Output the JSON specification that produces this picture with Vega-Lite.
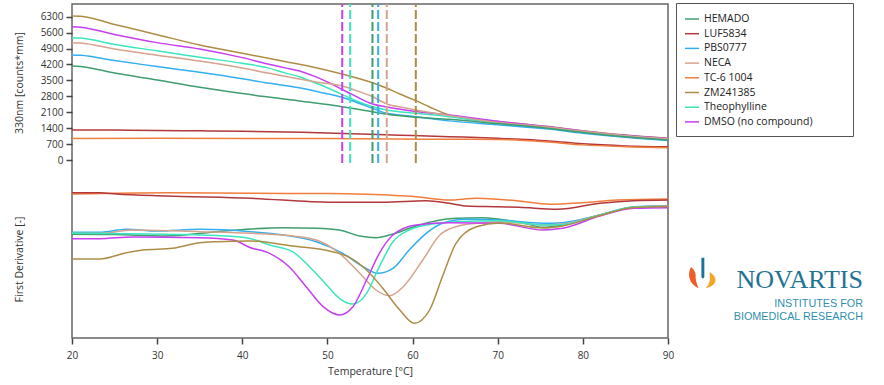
{
  "$schema": "https://vega.github.io/schema/vega-lite/v6.json",
  "width": 596,
  "height": 334,
  "autosize": {"type": "none"},
  "padding": {"left": 72, "top": 4, "right": 216, "bottom": 47},
  "background": "white",
  "config": {
    "view": {"stroke": "#666666", "strokeWidth": 1.5},
    "font": "Open Sans",
    "axis": {
      "labelFont": "Open Sans", "labelFontSize": 10, "labelColor": "#333333",
      "titleFont": "Open Sans", "titleFontSize": 10.5, "titleFontWeight": "normal", "titleColor": "#333333",
      "ticks": true, "tickColor": "#444444", "tickSize": 6, "tickWidth": 1.5, "tickOpacity": 1, "labelPadding": 3,
      "domain": false, "grid": false
    },
    "line": {"strokeWidth": 1.5, "interpolate": "monotone"}
  },
  "datasets": {
    "top": [
      {"s":"ZM241385","T":20,"v":6330},{"s":"ZM241385","T":21,"v":6320},{"s":"ZM241385","T":25,"v":5960},{"s":"ZM241385","T":30,"v":5510},{"s":"ZM241385","T":35,"v":5055},{"s":"ZM241385","T":40,"v":4690},{"s":"ZM241385","T":45,"v":4330},{"s":"ZM241385","T":48,"v":4110},{"s":"ZM241385","T":51.7,"v":3780},{"s":"ZM241385","T":55.3,"v":3398},{"s":"ZM241385","T":57,"v":3152},{"s":"ZM241385","T":58.5,"v":2900},{"s":"ZM241385","T":60.4,"v":2608},{"s":"ZM241385","T":62,"v":2330},{"s":"ZM241385","T":64.3,"v":1978},{"s":"ZM241385","T":67,"v":1800},{"s":"ZM241385","T":70,"v":1690},{"s":"ZM241385","T":76,"v":1470},{"s":"ZM241385","T":80,"v":1290},{"s":"ZM241385","T":85,"v":1100},{"s":"ZM241385","T":90,"v":960},
      {"s":"DMSO (no compound)","T":20,"v":5860},{"s":"DMSO (no compound)","T":21,"v":5840},{"s":"DMSO (no compound)","T":25,"v":5520},{"s":"DMSO (no compound)","T":30,"v":5160},{"s":"DMSO (no compound)","T":35,"v":4880},{"s":"DMSO (no compound)","T":40,"v":4500},{"s":"DMSO (no compound)","T":43,"v":4220},{"s":"DMSO (no compound)","T":45,"v":4050},{"s":"DMSO (no compound)","T":47,"v":3880},{"s":"DMSO (no compound)","T":49,"v":3600},{"s":"DMSO (no compound)","T":50.5,"v":3340},{"s":"DMSO (no compound)","T":51.7,"v":3108},{"s":"DMSO (no compound)","T":53,"v":2860},{"s":"DMSO (no compound)","T":55.3,"v":2462},{"s":"DMSO (no compound)","T":57,"v":2330},{"s":"DMSO (no compound)","T":60.4,"v":2130},{"s":"DMSO (no compound)","T":64.3,"v":1980},{"s":"DMSO (no compound)","T":70,"v":1700},{"s":"DMSO (no compound)","T":76,"v":1460},{"s":"DMSO (no compound)","T":80,"v":1280},{"s":"DMSO (no compound)","T":85,"v":1090},{"s":"DMSO (no compound)","T":90,"v":950},
      {"s":"Theophylline","T":20,"v":5376},{"s":"Theophylline","T":21,"v":5360},{"s":"Theophylline","T":25,"v":5080},{"s":"Theophylline","T":30,"v":4800},{"s":"Theophylline","T":35,"v":4515},{"s":"Theophylline","T":40,"v":4250},{"s":"Theophylline","T":43,"v":4050},{"s":"Theophylline","T":45,"v":3830},{"s":"Theophylline","T":46.7,"v":3662},{"s":"Theophylline","T":49,"v":3330},{"s":"Theophylline","T":51.7,"v":2888},{"s":"Theophylline","T":53,"v":2660},{"s":"Theophylline","T":55.3,"v":2343},{"s":"Theophylline","T":57,"v":2198},{"s":"Theophylline","T":60.4,"v":2051},{"s":"Theophylline","T":64.3,"v":1905},{"s":"Theophylline","T":70,"v":1620},{"s":"Theophylline","T":76,"v":1420},{"s":"Theophylline","T":80,"v":1240},{"s":"Theophylline","T":85,"v":1050},{"s":"Theophylline","T":90,"v":910},
      {"s":"NECA","T":20,"v":5157},{"s":"NECA","T":21,"v":5140},{"s":"NECA","T":25,"v":4880},{"s":"NECA","T":30,"v":4610},{"s":"NECA","T":35,"v":4352},{"s":"NECA","T":40,"v":4040},{"s":"NECA","T":43,"v":3820},{"s":"NECA","T":46.7,"v":3560},{"s":"NECA","T":49,"v":3410},{"s":"NECA","T":51.7,"v":3253},{"s":"NECA","T":53.5,"v":3040},{"s":"NECA","T":55.3,"v":2783},{"s":"NECA","T":57,"v":2462},{"s":"NECA","T":59,"v":2300},{"s":"NECA","T":60.4,"v":2198},{"s":"NECA","T":64.3,"v":1960},{"s":"NECA","T":70,"v":1650},{"s":"NECA","T":76,"v":1440},{"s":"NECA","T":80,"v":1260},{"s":"NECA","T":85,"v":1070},{"s":"NECA","T":90,"v":930},
      {"s":"PBS0777","T":20,"v":4616},{"s":"PBS0777","T":21,"v":4600},{"s":"PBS0777","T":25,"v":4370},{"s":"PBS0777","T":30,"v":4110},{"s":"PBS0777","T":35,"v":3855},{"s":"PBS0777","T":40,"v":3570},{"s":"PBS0777","T":43,"v":3380},{"s":"PBS0777","T":46.7,"v":3180},{"s":"PBS0777","T":49,"v":2990},{"s":"PBS0777","T":51.7,"v":2756},{"s":"PBS0777","T":53.5,"v":2520},{"s":"PBS0777","T":55.3,"v":2271},{"s":"PBS0777","T":57,"v":2051},{"s":"PBS0777","T":59,"v":1960},{"s":"PBS0777","T":60.4,"v":1905},{"s":"PBS0777","T":64.3,"v":1720},{"s":"PBS0777","T":70,"v":1550},{"s":"PBS0777","T":76,"v":1360},{"s":"PBS0777","T":80,"v":1180},{"s":"PBS0777","T":85,"v":1000},{"s":"PBS0777","T":90,"v":860},
      {"s":"HEMADO","T":20,"v":4132},{"s":"HEMADO","T":21,"v":4115},{"s":"HEMADO","T":25,"v":3820},{"s":"HEMADO","T":30,"v":3520},{"s":"HEMADO","T":35,"v":3196},{"s":"HEMADO","T":40,"v":2920},{"s":"HEMADO","T":46.7,"v":2594},{"s":"HEMADO","T":51.7,"v":2343},{"s":"HEMADO","T":55.3,"v":2124},{"s":"HEMADO","T":57,"v":2008},{"s":"HEMADO","T":60.4,"v":1875},{"s":"HEMADO","T":64.3,"v":1788},{"s":"HEMADO","T":70,"v":1600},{"s":"HEMADO","T":76,"v":1390},{"s":"HEMADO","T":80,"v":1210},{"s":"HEMADO","T":85,"v":1020},{"s":"HEMADO","T":90,"v":880},
      {"s":"LUF5834","T":20,"v":1320},{"s":"LUF5834","T":25,"v":1315},{"s":"LUF5834","T":30,"v":1300},{"s":"LUF5834","T":35,"v":1285},{"s":"LUF5834","T":40,"v":1260},{"s":"LUF5834","T":47,"v":1215},{"s":"LUF5834","T":55,"v":1130},{"s":"LUF5834","T":60,"v":1075},{"s":"LUF5834","T":64.3,"v":1025},{"s":"LUF5834","T":70,"v":955},{"s":"LUF5834","T":76,"v":840},{"s":"LUF5834","T":80,"v":710},{"s":"LUF5834","T":85,"v":620},{"s":"LUF5834","T":90,"v":585},
      {"s":"TC-6 1004","T":20,"v":950},{"s":"TC-6 1004","T":30,"v":955},{"s":"TC-6 1004","T":40,"v":950},{"s":"TC-6 1004","T":50,"v":940},{"s":"TC-6 1004","T":58.5,"v":923},{"s":"TC-6 1004","T":64,"v":912},{"s":"TC-6 1004","T":70,"v":905},{"s":"TC-6 1004","T":76,"v":790},{"s":"TC-6 1004","T":80,"v":665},{"s":"TC-6 1004","T":85,"v":585},{"s":"TC-6 1004","T":90,"v":541}
    ],
    "deriv": [
      {"s":"TC-6 1004","T":20,"d":-4},{"s":"TC-6 1004","T":31,"d":-2.7},{"s":"TC-6 1004","T":41,"d":-3.3},{"s":"TC-6 1004","T":50,"d":-3.5},{"s":"TC-6 1004","T":54.6,"d":-4.3},{"s":"TC-6 1004","T":60.4,"d":-6.7},{"s":"TC-6 1004","T":64.3,"d":-10},{"s":"TC-6 1004","T":67.5,"d":-8.3},{"s":"TC-6 1004","T":70,"d":-9.3},{"s":"TC-6 1004","T":72.2,"d":-10.7},{"s":"TC-6 1004","T":76.1,"d":-14.3},{"s":"TC-6 1004","T":80,"d":-12.7},{"s":"TC-6 1004","T":84,"d":-10},{"s":"TC-6 1004","T":90,"d":-9},
      {"s":"LUF5834","T":20,"d":-2.7},{"s":"LUF5834","T":23.25,"d":-2.7},{"s":"LUF5834","T":25.2,"d":-4},{"s":"LUF5834","T":31,"d":-6},{"s":"LUF5834","T":41,"d":-8.3},{"s":"LUF5834","T":50.6,"d":-12.3},{"s":"LUF5834","T":56.5,"d":-12.3},{"s":"LUF5834","T":61.6,"d":-10.7},{"s":"LUF5834","T":64.3,"d":-13.3},{"s":"LUF5834","T":66.3,"d":-16},{"s":"LUF5834","T":70,"d":-16.7},{"s":"LUF5834","T":72.5,"d":-17.3},{"s":"LUF5834","T":77,"d":-19.3},{"s":"LUF5834","T":82,"d":-13.3},{"s":"LUF5834","T":86,"d":-10.7},{"s":"LUF5834","T":90,"d":-10},
      {"s":"HEMADO","T":20,"d":-44.3},{"s":"HEMADO","T":25,"d":-44.5},{"s":"HEMADO","T":31,"d":-46},{"s":"HEMADO","T":37,"d":-41.7},{"s":"HEMADO","T":41,"d":-39},{"s":"HEMADO","T":44.8,"d":-37.7},{"s":"HEMADO","T":48.7,"d":-38.3},{"s":"HEMADO","T":51.4,"d":-40},{"s":"HEMADO","T":53.8,"d":-46},{"s":"HEMADO","T":55.7,"d":-47.7},{"s":"HEMADO","T":57.7,"d":-44},{"s":"HEMADO","T":60.4,"d":-36},{"s":"HEMADO","T":62.8,"d":-30.7},{"s":"HEMADO","T":65.1,"d":-28.3},{"s":"HEMADO","T":68.2,"d":-27.7},{"s":"HEMADO","T":70.2,"d":-29.3},{"s":"HEMADO","T":73,"d":-33},{"s":"HEMADO","T":75.3,"d":-37.3},{"s":"HEMADO","T":77.6,"d":-35},{"s":"HEMADO","T":82,"d":-25},{"s":"HEMADO","T":86,"d":-17.3},{"s":"HEMADO","T":90,"d":-16},
      {"s":"PBS0777","T":20,"d":-42.3},{"s":"PBS0777","T":23.25,"d":-42.3},{"s":"PBS0777","T":26.4,"d":-39.3},{"s":"PBS0777","T":29.9,"d":-41},{"s":"PBS0777","T":35,"d":-39.3},{"s":"PBS0777","T":41,"d":-41.7},{"s":"PBS0777","T":44.8,"d":-45},{"s":"PBS0777","T":48.7,"d":-51.7},{"s":"PBS0777","T":51.8,"d":-63.3},{"s":"PBS0777","T":54.2,"d":-76.7},{"s":"PBS0777","T":55.9,"d":-83.3},{"s":"PBS0777","T":57.7,"d":-78.3},{"s":"PBS0777","T":59.6,"d":-60},{"s":"PBS0777","T":61.6,"d":-43.3},{"s":"PBS0777","T":63.5,"d":-33.3},{"s":"PBS0777","T":66.3,"d":-29.3},{"s":"PBS0777","T":70.2,"d":-30},{"s":"PBS0777","T":75.3,"d":-33.3},{"s":"PBS0777","T":77.6,"d":-32.7},{"s":"PBS0777","T":82,"d":-25},{"s":"PBS0777","T":86,"d":-16.7},{"s":"PBS0777","T":90,"d":-15.7},
      {"s":"NECA","T":20,"d":-43.3},{"s":"NECA","T":23.25,"d":-43.3},{"s":"NECA","T":27.1,"d":-40},{"s":"NECA","T":35,"d":-41.7},{"s":"NECA","T":41,"d":-43.3},{"s":"NECA","T":44.8,"d":-45},{"s":"NECA","T":48.7,"d":-50},{"s":"NECA","T":51.4,"d":-63.3},{"s":"NECA","T":53.8,"d":-83.3},{"s":"NECA","T":55.7,"d":-100},{"s":"NECA","T":57.3,"d":-105.7},{"s":"NECA","T":58.9,"d":-96.7},{"s":"NECA","T":61.2,"d":-70},{"s":"NECA","T":63.2,"d":-45},{"s":"NECA","T":65.1,"d":-36.7},{"s":"NECA","T":68.2,"d":-32.7},{"s":"NECA","T":70.2,"d":-31.7},{"s":"NECA","T":75.3,"d":-35},{"s":"NECA","T":77.6,"d":-34},{"s":"NECA","T":82,"d":-25},{"s":"NECA","T":86,"d":-17},{"s":"NECA","T":90,"d":-16},
      {"s":"Theophylline","T":20,"d":-43.3},{"s":"Theophylline","T":31,"d":-44.3},{"s":"Theophylline","T":38,"d":-46},{"s":"Theophylline","T":41,"d":-48.7},{"s":"Theophylline","T":43.2,"d":-55},{"s":"Theophylline","T":45.9,"d":-61.7},{"s":"Theophylline","T":47.9,"d":-76.7},{"s":"Theophylline","T":49.9,"d":-95},{"s":"Theophylline","T":51.4,"d":-108.3},{"s":"Theophylline","T":53,"d":-114},{"s":"Theophylline","T":54.6,"d":-103.3},{"s":"Theophylline","T":56.1,"d":-76.7},{"s":"Theophylline","T":57.7,"d":-51.7},{"s":"Theophylline","T":59.6,"d":-40},{"s":"Theophylline","T":62.4,"d":-34},{"s":"Theophylline","T":65.1,"d":-31.7},{"s":"Theophylline","T":70.2,"d":-30.7},{"s":"Theophylline","T":75.3,"d":-35},{"s":"Theophylline","T":77.6,"d":-34.5},{"s":"Theophylline","T":82,"d":-25},{"s":"Theophylline","T":86,"d":-17},{"s":"Theophylline","T":90,"d":-16.5},
      {"s":"DMSO (no compound)","T":20,"d":-48.7},{"s":"DMSO (no compound)","T":23.25,"d":-48.7},{"s":"DMSO (no compound)","T":27.1,"d":-47},{"s":"DMSO (no compound)","T":35,"d":-47.7},{"s":"DMSO (no compound)","T":38.9,"d":-50},{"s":"DMSO (no compound)","T":40.9,"d":-57.5},{"s":"DMSO (no compound)","T":43.2,"d":-63.3},{"s":"DMSO (no compound)","T":45.5,"d":-76.7},{"s":"DMSO (no compound)","T":47.5,"d":-96.7},{"s":"DMSO (no compound)","T":49.5,"d":-116.7},{"s":"DMSO (no compound)","T":51.4,"d":-125},{"s":"DMSO (no compound)","T":53,"d":-116.7},{"s":"DMSO (no compound)","T":54.6,"d":-90},{"s":"DMSO (no compound)","T":56.1,"d":-63.3},{"s":"DMSO (no compound)","T":57.7,"d":-45},{"s":"DMSO (no compound)","T":60.4,"d":-35},{"s":"DMSO (no compound)","T":64.3,"d":-32.7},{"s":"DMSO (no compound)","T":70.2,"d":-33.3},{"s":"DMSO (no compound)","T":75.3,"d":-40},{"s":"DMSO (no compound)","T":77.6,"d":-38.3},{"s":"DMSO (no compound)","T":82,"d":-26},{"s":"DMSO (no compound)","T":86,"d":-18.3},{"s":"DMSO (no compound)","T":90,"d":-17.7},
      {"s":"ZM241385","T":20,"d":-69},{"s":"ZM241385","T":23.25,"d":-69},{"s":"ZM241385","T":26.4,"d":-62.7},{"s":"ZM241385","T":28.3,"d":-60},{"s":"ZM241385","T":31.8,"d":-58.3},{"s":"ZM241385","T":35,"d":-52.7},{"s":"ZM241385","T":37,"d":-51.7},{"s":"ZM241385","T":40.9,"d":-51},{"s":"ZM241385","T":45.9,"d":-56},{"s":"ZM241385","T":50.6,"d":-61.7},{"s":"ZM241385","T":52.6,"d":-67.3},{"s":"ZM241385","T":54.6,"d":-80},{"s":"ZM241385","T":56.5,"d":-98.3},{"s":"ZM241385","T":58.5,"d":-120},{"s":"ZM241385","T":60.2,"d":-133.3},{"s":"ZM241385","T":62,"d":-120},{"s":"ZM241385","T":63.5,"d":-86.7},{"s":"ZM241385","T":65.1,"d":-53.3},{"s":"ZM241385","T":67.5,"d":-36.7},{"s":"ZM241385","T":70.2,"d":-33},{"s":"ZM241385","T":75.3,"d":-38},{"s":"ZM241385","T":77.6,"d":-36},{"s":"ZM241385","T":82,"d":-25.5},{"s":"ZM241385","T":86,"d":-17.5},{"s":"ZM241385","T":90,"d":-16.5}
    ],
    "tm": [
      {"s":"DMSO (no compound)","Tm":51.74},{"s":"Theophylline","Tm":52.67},{"s":"HEMADO","Tm":55.29},{"s":"PBS0777","Tm":55.96},{"s":"NECA","Tm":56.97},{"s":"ZM241385","Tm":60.38}
    ]
  },
  "layer": [
    {
      "data": {"name": "top"},
      "mark": {"type": "line"},
      "encoding": {
        "x": {"field": "T", "type": "quantitative", "scale": {"domain": [20, 90], "nice": false, "zero": false},
              "axis": {"values": [20,30,40,50,60,70,80,90], "title": "Temperature [°C]", "labelPadding": 6, "titlePadding": 6, "labelFlush": false, "ticks": true}},
        "y": {"field": "v", "type": "quantitative", "scale": {"domain": [-7825, 6858], "nice": false, "zero": false},
              "axis": {"orient": "left", "values": [0,700,1400,2100,2800,3500,4200,4900,5600,6300], "format": "d", "title": "330nm [counts*mm]", "ticks": true,
                       "titleX": -53, "titleY": 78.5, "titleAngle": -90, "titleBaseline": "middle", "titleAlign": "center"}},
        "color": {"field": "s", "type": "nominal",
                  "scale": {"domain": ["HEMADO","LUF5834","PBS0777","NECA","TC-6 1004","ZM241385","Theophylline","DMSO (no compound)"],
                            "range": ["#3f9e6e","#b2383b","#33aef0","#d6a38c","#f17d3c","#ad8d45","#3be6bc","#c63ff0"]},
                  "legend": {"orient": "none", "legendX": 604, "legendY": -1, "title": null, "symbolType": "stroke", "symbolSize": 196,
                             "symbolStrokeWidth": 2, "labelFont": "Open Sans", "labelFontSize": 10.5, "labelColor": "#222222",
                             "labelOffset": 4, "rowPadding": 0.7, "padding": 8, "strokeColor": "#555555", "fillColor": "white", "labelLimit": 300,
                             "labelExpr": "datum.label == 'DMSO (no compound)' ? datum.label + '\u2800\u2800\u2800\u2800' : datum.label"}}
      }
    },
    {
      "data": {"name": "tm"},
      "mark": {"type": "rule", "strokeWidth": 2, "strokeDash": [9, 3]},
      "encoding": {
        "x": {"field": "Tm", "type": "quantitative"},
        "y": {"datum": -132, "type": "quantitative", "scale": {"domain": [-7825, 6858], "nice": false, "zero": false}, "axis": null},
        "y2": {"datum": 6858},
        "color": {"field": "s", "type": "nominal"}
      }
    },
    {
      "data": {"name": "deriv"},
      "mark": {"type": "line"},
      "encoding": {
        "x": {"field": "T", "type": "quantitative"},
        "y": {"field": "d", "type": "quantitative", "scale": {"domain": [-148, 186], "nice": false, "zero": false},
              "axis": {"orient": "left", "labels": false, "ticks": false, "domain": false, "title": "First Derivative [-]",
                       "titleX": -53, "titleY": 255, "titleAngle": -90, "titleBaseline": "middle", "titleAlign": "center"}},
        "color": {"field": "s", "type": "nominal"}
      }
    },
    {
      "data": {"values": [{"part": "left flame"}]},
      "mark": {"type": "point", "filled": true, "fill": "#ec5f2a", "opacity": 1, "strokeWidth": 0, "size": 784,
               "shape": "M-0.89,-0.54 C-1.15,-0.1 -1.1,0.65 -0.35,0.98 C-0.52,0.6 -0.58,0.3 -0.56,0.05 C-0.56,-0.2 -0.72,-0.4 -0.89,-0.54 Z"},
      "encoding": {
        "x": {"datum": 94.17, "type": "quantitative"},
        "y": {"datum": -84.5, "type": "quantitative", "scale": {"domain": [-148, 186], "nice": false, "zero": false}, "axis": null}
      }
    },
    {
      "data": {"values": [{"part": "right flame"}]},
      "mark": {"type": "point", "filled": true, "fill": "#f4a62a", "opacity": 1, "strokeWidth": 0, "size": 784,
               "shape": "M0.43,-0.18 C0.95,0.1 1.15,0.75 0.15,0.98 C0.4,0.75 0.48,0.45 0.45,0.2 C0.44,0.05 0.44,-0.08 0.43,-0.18 Z"},
      "encoding": {
        "x": {"datum": 94.17, "type": "quantitative"},
        "y": {"datum": -84.5, "type": "quantitative", "scale": {"domain": [-148, 186], "nice": false, "zero": false}, "axis": null}
      }
    },
    {
      "data": {"values": [{"part": "stem"}]},
      "mark": {"type": "point", "filled": true, "fill": "#1f6f9f", "opacity": 1, "strokeWidth": 0, "size": 784,
               "shape": "M-0.15,-1.2 L0.06,-1.2 L0.06,0.15 C0.06,0.32 -0.15,0.32 -0.15,0.15 Z"},
      "encoding": {
        "x": {"datum": 94.17, "type": "quantitative"},
        "y": {"datum": -84.5, "type": "quantitative", "scale": {"domain": [-148, 186], "nice": false, "zero": false}, "axis": null}
      }
    },
    {
      "data": {"values": [{"label": "NOVARTIS"}]},
      "mark": {"type": "text", "font": "Liberation Serif", "fontSize": 26, "color": "#1f7393", "align": "right", "baseline": "alphabetic"},
      "encoding": {
        "x": {"datum": 112.9, "type": "quantitative"},
        "y": {"datum": -98.3, "type": "quantitative", "scale": {"domain": [-148, 186], "nice": false, "zero": false}, "axis": null},
        "text": {"field": "label"}
      }
    },
    {
      "data": {"values": [{"label": "INSTITUTES FOR"}]},
      "mark": {"type": "text", "font": "Liberation Sans", "fontSize": 10.8, "color": "#2f8fb0", "align": "right", "baseline": "alphabetic"},
      "encoding": {
        "x": {"datum": 112.9, "type": "quantitative"},
        "y": {"datum": -116.7, "type": "quantitative", "scale": {"domain": [-148, 186], "nice": false, "zero": false}, "axis": null},
        "text": {"field": "label"}
      }
    },
    {
      "data": {"values": [{"label": "BIOMEDICAL RESEARCH"}]},
      "mark": {"type": "text", "font": "Liberation Sans", "fontSize": 10.8, "color": "#2f8fb0", "align": "right", "baseline": "alphabetic"},
      "encoding": {
        "x": {"datum": 112.9, "type": "quantitative"},
        "y": {"datum": -130, "type": "quantitative", "scale": {"domain": [-148, 186], "nice": false, "zero": false}, "axis": null},
        "text": {"field": "label"}
      }
    }
  ],
  "resolve": {"scale": {"y": "independent"}, "axis": {"y": "independent"}}
}
